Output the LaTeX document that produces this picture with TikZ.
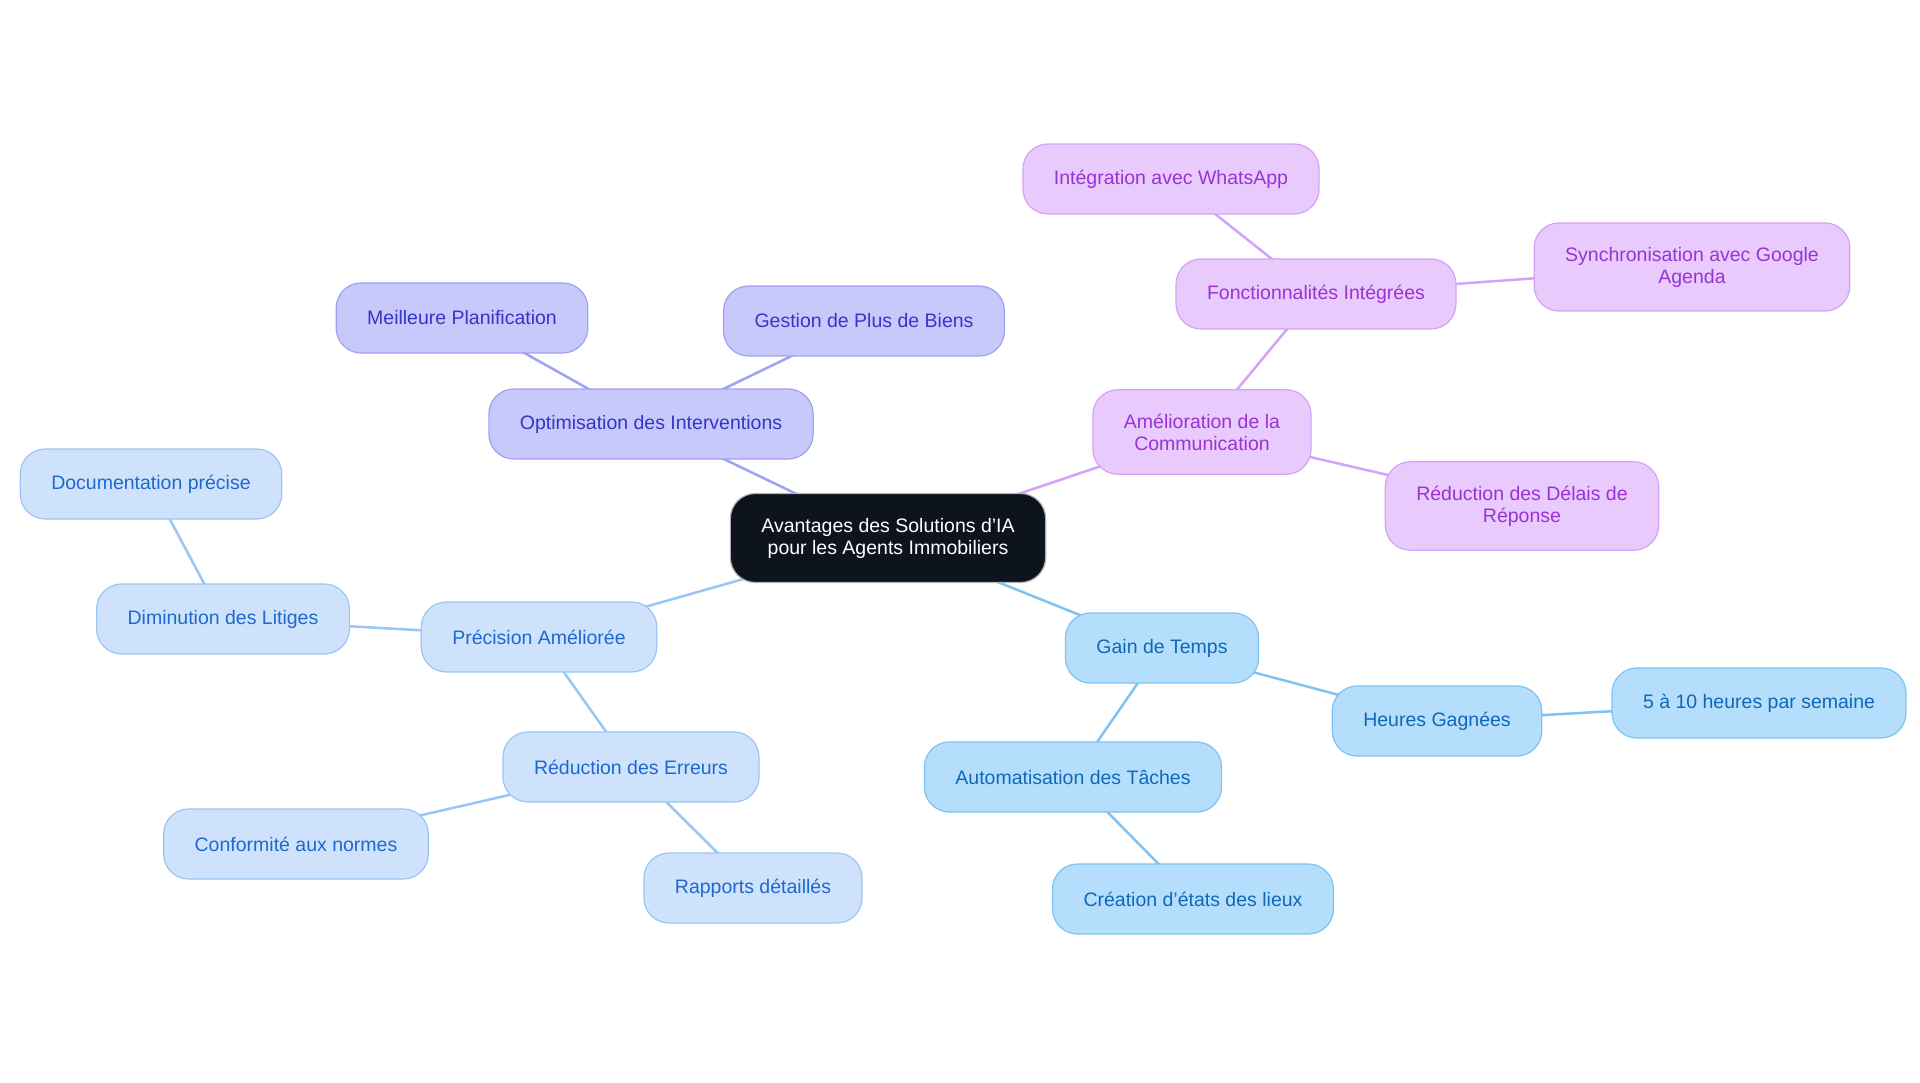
\documentclass[tikz,border=0pt]{standalone}
\usepackage{fontspec}
\setmainfont{Liberation Sans}
\usetikzlibrary{backgrounds}

\definecolor{rootfill}{HTML}{0E141D}
\definecolor{optfill}{HTML}{C8C9FB}
\definecolor{optdraw}{HTML}{9FA1F1}
\definecolor{opttext}{HTML}{3535C9}
\definecolor{precfill}{HTML}{CEE3FB}
\definecolor{precdraw}{HTML}{9BC6F3}
\definecolor{prectext}{HTML}{1F68CF}
\definecolor{gainfill}{HTML}{B4DEFC}
\definecolor{gaindraw}{HTML}{7EC3F1}
\definecolor{gaintext}{HTML}{1168B6}
\definecolor{comfill}{HTML}{E8CAFC}
\definecolor{comdraw}{HTML}{D6A2F6}
\definecolor{comtext}{HTML}{9A33D4}

\tikzset{
  box/.style={draw, rounded corners=25pt, minimum height=70pt, inner xsep=31pt,
    inner ysep=24pt, align=center, line width=1.2pt,
    font=\fontsize{19.5}{22}\selectfont},
  rootbox/.style={box, fill=rootfill, draw=gray!60, text=white, minimum height=89pt},
  optbox/.style={box, fill=optfill, draw=optdraw, text=opttext},
  precbox/.style={box, fill=precfill, draw=precdraw, text=prectext},
  gainbox/.style={box, fill=gainfill, draw=gaindraw, text=gaintext},
  combox/.style={box, fill=comfill, draw=comdraw, text=comtext},
  link/.style={line width=2.5pt},
}

\begin{document}
\begin{tikzpicture}[x=1pt,y=-1pt]

\useasboundingbox (0,0) rectangle (1920,1083);

% Centre
\node[rootbox] (root) at (888,538) {Avantages des Solutions d'IA\\pour les Agents Immobiliers};

% Optimisation des Interventions
\node[optbox] (opt) at (651,424) {Optimisation des Interventions};
\node[optbox] (plan) at (462,318) {Meilleure Planification};
\node[optbox] (biens) at (864,321) {Gestion de Plus de Biens};

% Precision Amelioree
\node[precbox] (prec) at (539,637) {Précision Améliorée};
\node[precbox] (litig) at (223,619) {Diminution des Litiges};
\node[precbox] (docu) at (151,484) {Documentation précise};
\node[precbox] (err) at (631,767) {Réduction des Erreurs};
\node[precbox] (norm) at (296,844) {Conformité aux normes};
\node[precbox] (rapp) at (753,888) {Rapports détaillés};

% Gain de Temps
\node[gainbox] (gain) at (1162,648) {Gain de Temps};
\node[gainbox] (heur) at (1437,721) {Heures Gagnées};
\node[gainbox] (sem) at (1759,703) {5 à 10 heures par semaine};
\node[gainbox] (auto) at (1073,777) {Automatisation des Tâches};
\node[gainbox] (etat) at (1193,899) {Création d'états des lieux};

% Amelioration de la Communication
\node[combox] (com) at (1202,432) {Amélioration de la\\Communication};
\node[combox] (fonc) at (1316,294) {Fonctionnalités Intégrées};
\node[combox] (whats) at (1171,179) {Intégration avec WhatsApp};
\node[combox] (agenda) at (1692,267) {Synchronisation avec Google\\Agenda};
\node[combox] (delai) at (1522,506) {Réduction des Délais de\\Réponse};

% Connectors (centre to centre, hidden under the boxes)
\begin{scope}[on background layer]
\fill[white] (0,0) rectangle (1920,1083);
\draw[link, optdraw] (root.center)--(opt.center) (opt.center)--(plan.center)
  (opt.center)--(biens.center);
\draw[link, precdraw] (root.center)--(prec.center) (prec.center)--(litig.center)
  (litig.center)--(docu.center) (prec.center)--(err.center)
  (err.center)--(norm.center) (err.center)--(rapp.center);
\draw[link, gaindraw] (root.center)--(gain.center) (gain.center)--(heur.center)
  (heur.center)--(sem.center) (gain.center)--(auto.center)
  (auto.center)--(etat.center);
\draw[link, comdraw] (root.center)--(com.center) (com.center)--(fonc.center)
  (fonc.center)--(whats.center) (fonc.center)--(agenda.center)
  (com.center)--(delai.center);
\end{scope}

\end{tikzpicture}
\end{document}
